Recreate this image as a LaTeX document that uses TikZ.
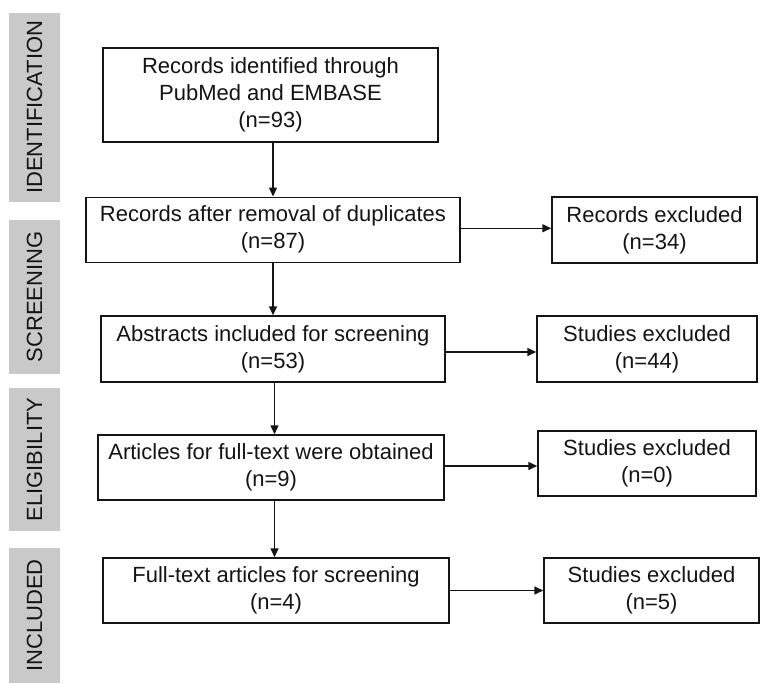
\documentclass[tikz,border=0pt]{standalone}
\usepackage{fontspec}
\setmainfont{Liberation Sans}
\usetikzlibrary{arrows.meta}
\definecolor{barfill}{RGB}{201,201,201}
\definecolor{ink}{RGB}{20,20,20}
\tikzset{
  box/.style={draw=ink, line width=1.5pt, rectangle, inner sep=0pt, align=center,
    font=\fontsize{22}{27}\selectfont, text=ink},
  sidebar/.style={fill=barfill, draw=none, rectangle, inner sep=0pt, rotate=90,
    minimum height=51pt, font=\fontsize{22}{27}\selectfont, text=ink},
  arr/.style={draw=ink, line width=1.5pt, -{Triangle[length=9pt,width=8pt]}}
}
\begin{document}
\begin{tikzpicture}[x=1pt,y=-1pt]
\useasboundingbox[fill=white] (0,0) rectangle (760,683);
% side bars
\node[sidebar, minimum width=189pt] (sid) at (34.5,107.4) {IDENTIFICATION};
\node[sidebar, minimum width=154pt] (ssc) at (34.5,297) {SCREENING};
\node[sidebar, minimum width=143pt] (sel) at (34.5,459.5) {ELIGIBILITY};
\node[sidebar, minimum width=135pt] (sin) at (34.5,615.5) {INCLUDED};
% main boxes
\node[box, minimum width=335pt, minimum height=94pt] (b1) at (270.5,95) {Records identified through\\PubMed and EMBASE\\(n=93)};
\node[box, minimum width=374pt, minimum height=65pt] (b2) at (273,229.75) {Records after removal of duplicates\\(n=87)};
\node[box, minimum width=344pt, minimum height=66pt] (b3) at (273,349) {Abstracts included for screening\\(n=53)};
\node[box, minimum width=346pt, minimum height=65pt] (b4) at (271,467.5) {Articles for full-text were obtained\\(n=9)};
\node[box, minimum width=346pt, minimum height=65pt] (b5) at (276,590.5) {Full-text articles for screening\\(n=4)};
% right boxes
\node[box, minimum width=205pt, minimum height=66pt] (r1) at (654.5,230) {Records excluded\\(n=34)};
\node[box, minimum width=220pt, minimum height=66pt] (r2) at (647,349) {Studies excluded\\(n=44)};
\node[box, minimum width=218pt, minimum height=65pt] (r3) at (647,463.5) {Studies excluded\\(n=0)};
\node[box, minimum width=215pt, minimum height=65pt] (r4) at (651.5,590.5) {Studies excluded\\(n=5)};
% vertical connectors
\coordinate (vx) at (273,0);
\coordinate (vy) at (274.5,0);
\draw[arr] (b1.south -| vx) -- (b2.north -| vx);
\draw[arr] (b2.south -| vx) -- (b3.north -| vx);
\draw[arr] (b3.south -| vy) -- (b4.north -| vy);
\draw[arr] (b4.south -| vy) -- (b5.north -| vy);
% horizontal connectors
\draw[arr] ([yshift=1.5pt]b2.east) -- ([yshift=1.5pt]b2.east -| r1.west);
\draw[arr] ([yshift=-3pt]b3.east) -- ([yshift=-3pt]b3.east -| r2.west);
\draw[arr] ([yshift=1.5pt]b4.east) -- ([yshift=1.5pt]b4.east -| r3.west);
\draw[arr] (b5.east) -- (b5.east -| r4.west);
\end{tikzpicture}
\end{document}
